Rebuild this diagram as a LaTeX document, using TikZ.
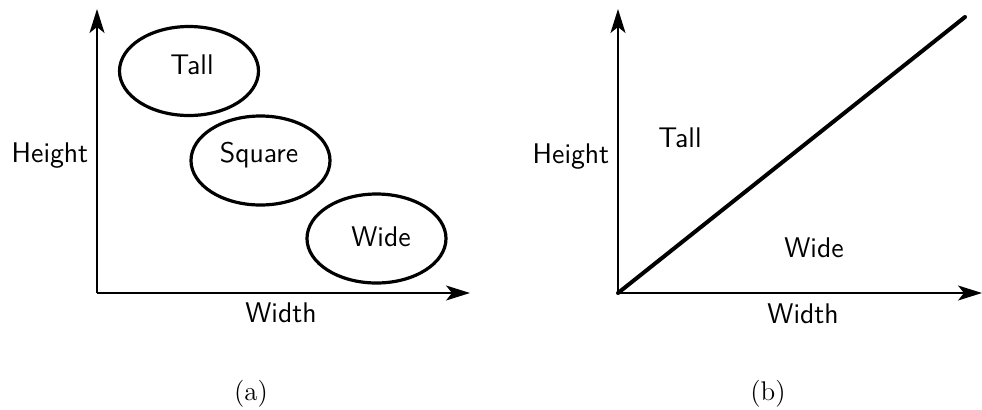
\documentclass[tikz,border=0pt]{standalone}
\usetikzlibrary{arrows.meta,shapes.geometric}
\begin{document}
\begin{tikzpicture}[x=0.5pt,y=-0.5pt,
  axis/.style={line width=0.75pt,-{Stealth[length=12pt,width=7.5pt,inset=3pt]}},
  blob/.style={draw,ellipse,line width=1.6pt,minimum width=69.5pt,minimum height=44.5pt,inner sep=0pt},
  lbl/.style={anchor=base,inner sep=0pt,font=\fontsize{14.2}{17}\sffamily},
  subcap/.style={anchor=base,inner sep=0pt,font=\fontsize{13.5}{16}\selectfont}]
\useasboundingbox (0,0) rectangle (982,409);
% panel (a)
\coordinate (oa) at (97,293);
\coordinate (ya) at (97,9);
\coordinate (xa) at (470,293);
\draw[axis] (oa) -- (ya);
\draw[axis] (oa) -- (xa);
\node[blob] (e1) at (189,71) {};
\node[blob] (e2) at (260.5,160.5) {};
\node[blob] (e3) at (376.5,238.5) {};
\node[lbl] (t1) at (192,74) {Tall};
\node[lbl] (t2) at (259,162) {Square};
\node[lbl] (t3) at (381,246) {Wide};
\node[lbl] (ha) at (50,162) {Height};
\node[lbl] (wa) at (281,322) {Width};
\node[subcap] (ca) at (251,400) {(a)};
% panel (b)
\coordinate (ob) at (618,293);
\coordinate (yb) at (618,9);
\coordinate (xb) at (982,293);
\coordinate (db) at (965,17);
\draw[axis] (ob) -- (yb);
\draw[axis] (ob) -- (xb);
\draw[line width=2pt,line cap=round] (ob) -- (db);
\node[lbl] (hb) at (571,163) {Height};
\node[lbl] (tb) at (680,147) {Tall};
\node[lbl] (wdb) at (814,257) {Wide};
\node[lbl] (wb) at (803,323) {Width};
\node[subcap] (cb) at (768,400) {(b)};
\end{tikzpicture}
\end{document}
